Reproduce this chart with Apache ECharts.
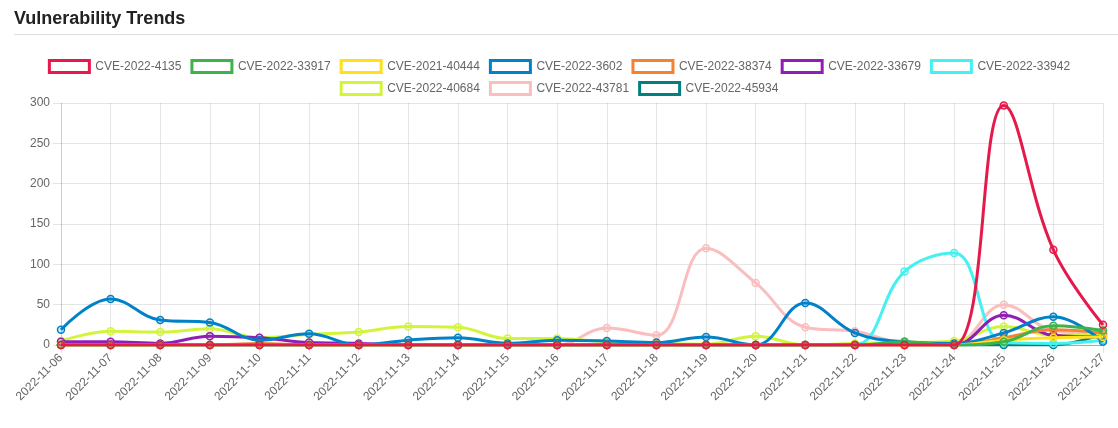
<!DOCTYPE html>
<html>
<head>
<meta charset="utf-8">
<script src="https://cdn.jsdelivr.net/npm/echarts@6/dist/echarts.min.js"></script>
<style>
html,body{margin:0;padding:0;background:#fff;}
#chart{width:1118px;height:428px;}
</style>
</head>
<body>
<div id="chart"></div>
<script>
const dates = ['2022-11-06','2022-11-07','2022-11-08','2022-11-09','2022-11-10','2022-11-11','2022-11-12','2022-11-13','2022-11-14','2022-11-15','2022-11-16','2022-11-17','2022-11-18','2022-11-19','2022-11-20','2022-11-21','2022-11-22','2022-11-23','2022-11-24','2022-11-25','2022-11-26','2022-11-27'];

const seriesNames = ['CVE-2022-4135','CVE-2022-33917','CVE-2021-40444','CVE-2022-3602','CVE-2022-38374','CVE-2022-33679','CVE-2022-33942','CVE-2022-40684','CVE-2022-43781','CVE-2022-45934'];
const seriesColors = ['#e6194b','#3cb44b','#ffe119','#0082c8','#f58231','#911eb4','#46f0f0','#d2f53c','#fabebe','#008080'];

const cve2022_4135  = [0,0,0,0,0,0,0,0,0,0,0,0,0,0,0,0,0,0,0,297,118,25];
const cve2022_33917 = [0,0,0,0,0,0,0,0,0,0,0,0,0,0,0,0,0,4,0,4,24,18];
const cve2021_40444 = [0,0,0,0,0,0,0,0,0,0,0,0,0,0,0,0,0,0,0,6,9,10];
const cve2022_3602  = [19,57,31,28,6,14,0,6,9,2,6,5,3,10,0,52,15,4,2,15,35,4];
const cve2022_38374 = [0,0,0,0,2,0,0,0,0,0,0,0,0,0,0,0,0,0,0,9,19,15];
const cve2022_33679 = [4,4,2,11,9,3,2,0,0,0,0,0,0,0,0,0,0,0,0,37,12,10];
const cve2022_33942 = [0,0,0,0,0,0,0,0,0,0,0,0,0,0,0,0,0,91,114,3,2,6];
const cve2022_40684 = [5,17,16,20,9,13,16,23,22,8,8,4,2,1,11,0,2,3,5,23,12,12];
const cve2022_43781 = [0,0,0,0,0,0,0,0,0,0,0,21,12,120,77,22,17,3,2,50,18,14];
const cve2022_45934 = [0,0,0,0,0,0,0,0,0,0,0,0,0,0,0,0,0,0,0,0,0,14];

const seriesData = [cve2022_4135,cve2022_33917,cve2021_40444,cve2022_3602,cve2022_38374,cve2022_33679,cve2022_33942,cve2022_40684,cve2022_43781,cve2022_45934];

const yTicks = {min:0, max:300, interval:50};

function hexA(hex,a){
  const n=parseInt(hex.slice(1),16);
  return 'rgba('+((n>>16)&255)+','+((n>>8)&255)+','+(n&255)+','+a+')';
}

const font = "'Liberation Sans', Arial, Helvetica, sans-serif";
const gridColor = 'rgba(0,0,0,0.1)';

const series = seriesNames.map((name,i)=>({
  name: name,
  type: 'line',
  data: seriesData[i],
  smooth: 0.4,
  z: 20 - i,
  symbol: 'circle',
  symbolSize: 7,
  showAllSymbol: true,
  lineStyle: {color: seriesColors[i], width: 3},
  itemStyle: {color: hexA(seriesColors[i],0.15), borderColor: seriesColors[i], borderWidth: 1.5},
  emphasis: {disabled: true}
}));

function legendItems(from,to){
  const out=[];
  for(let i=from;i<to;i++){
    out.push({name: seriesNames[i], itemStyle:{color:'#fff', borderColor: seriesColors[i], borderWidth:3}});
  }
  return out;
}

const legendCommon = {
  left: 'center',
  icon: 'rect',
  itemWidth: 40,
  itemHeight: 12,
  itemGap: 9,
  padding: 0,
  selectedMode: false,
  textStyle: {color:'#666', fontSize:12, fontFamily: font, padding:[0,0,0,1]}
};

const chart = echarts.init(document.getElementById('chart'), null, {renderer:'canvas'});
chart.setOption({
  animation: false,
  backgroundColor: '#fff',
  title: {
    text: 'Vulnerability Trends',
    left: 14, top: 10, padding: 0,
    textStyle: {fontSize: 18, fontWeight: 'bold', color: '#222', fontFamily: font}
  },
  graphic: [{
    type: 'line',
    shape: {x1: 14, y1: 34.5, x2: 1118, y2: 34.5},
    style: {stroke: '#ddd', lineWidth: 1},
    silent: true
  }],
  legend: [
    Object.assign({top: 59, data: legendItems(0,7)}, legendCommon),
    Object.assign({top: 81, data: legendItems(7,10)}, legendCommon)
  ],
  grid: {left: 61, right: 15, top: 103, bottom: 83, containLabel: false},
  xAxis: {
    type: 'category',
    data: dates,
    boundaryGap: false,
    axisLine: {show: true, lineStyle: {color: 'rgba(0,0,0,0.25)'}},
    axisTick: {show: true, length: 8, alignWithLabel: true, lineStyle: {color: gridColor}},
    splitLine: {show: true, lineStyle: {color: gridColor}},
    axisLabel: {rotate: 45, color: '#666', fontSize: 12, fontFamily: font, margin: 11, interval: 0}
  },
  yAxis: {
    type: 'value',
    min: yTicks.min, max: yTicks.max, interval: yTicks.interval,
    axisLine: {show: true, lineStyle: {color: gridColor}},
    axisTick: {show: true, length: 8, lineStyle: {color: gridColor}},
    splitLine: {show: true, lineStyle: {color: gridColor}},
    axisLabel: {color: '#666', fontSize: 12, fontFamily: font, margin: 11}
  },
  series: series
});
</script>
</body>
</html>
